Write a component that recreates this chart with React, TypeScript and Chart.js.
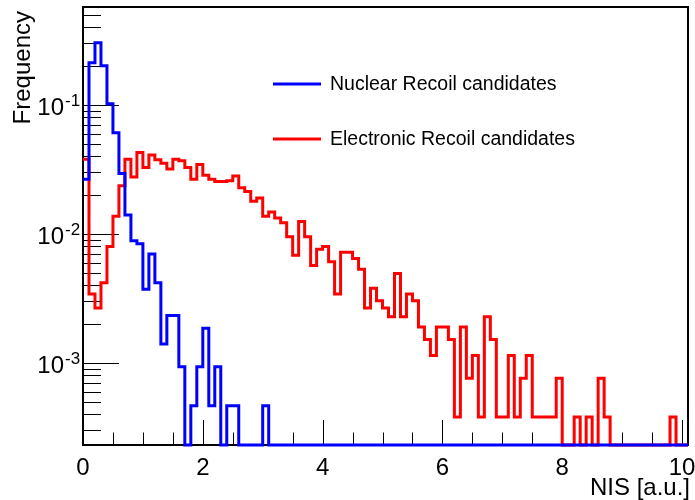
import React, { useEffect, useRef } from "react";
import { Chart, registerables } from "chart.js";

Chart.register(...registerables);

// ---------------- data ----------------
const BIN_WIDTH = 0.1;
const X_MIN = 0;
const X_MAX = 10.1;
const Y_MIN = 2.31e-4;
const Y_MAX = 0.575;

// bin contents (normalised frequency) for bins [0,0.1), [0.1,0.2), ... [9.9,10.0)
const nuclearFreq = [
  0.0266, 0.2125, 0.304, 0.201, 0.102, 0.061, 0.0294, 0.014, 0.00885, 0.00839,
  0.00373, 0.00699, 0.00419, 0.0014, 0.00233, 0.00233, 0.000932, 0, 0.000466, 0.000932,
  0.00186, 0.000466, 0.000932, 0, 0.000466, 0.000466, 0, 0, 0, 0,
  0.000466, 0, 0, 0, 0, 0, 0, 0, 0, 0,
  0, 0, 0, 0, 0, 0, 0, 0, 0, 0,
  0, 0, 0, 0, 0, 0, 0, 0, 0, 0,
  0, 0, 0, 0, 0, 0, 0, 0, 0, 0,
  0, 0, 0, 0, 0, 0, 0, 0, 0, 0,
  0, 0, 0, 0, 0, 0, 0, 0, 0, 0,
  0, 0, 0, 0, 0, 0, 0, 0, 0, 0,
];

const electronicFreq = [
  0.038, 0.00342, 0.00266, 0.00418, 0.00798, 0.0137, 0.0236, 0.038, 0.0277, 0.0429,
  0.0327, 0.041, 0.0376, 0.0353, 0.0319, 0.038, 0.0369, 0.0327, 0.0266, 0.0346,
  0.0285, 0.0266, 0.0255, 0.0255, 0.0258, 0.0281, 0.0228, 0.0213, 0.0179, 0.019,
  0.0137, 0.0148, 0.0133, 0.0122, 0.0095, 0.00684, 0.0125, 0.0095, 0.0057, 0.0076,
  0.00798, 0.00608, 0.00342, 0.00722, 0.00722, 0.00646, 0.00532, 0.00266, 0.0038, 0.00304,
  0.00266, 0.00228, 0.00494, 0.00228, 0.00342, 0.00304, 0.0019, 0.00152, 0.00114, 0.0019,
  0.0019, 0.00152, 0.00038, 0.0019, 0.00076, 0.00114, 0.00038, 0.00228, 0.00152, 0.00038,
  0.00038, 0.00114, 0.00038, 0.00076, 0.00114, 0.00038, 0.00038, 0.00038, 0.00038, 0.00076,
  0, 0, 0.00038, 0, 0.00038, 0, 0.00076, 0.00038, 0, 0,
  0, 0, 0, 0, 0, 0, 0, 0, 0.00038, 0,
];

const seriesLabels = ["Nuclear Recoil candidates", "Electronic Recoil candidates"];
const seriesColors = ["#0000ff", "#ff0000"];
const xTickLabels = [0, 2, 4, 6, 8, 10];
const yDecades = [1e-3, 1e-2, 1e-1];
const yDecadeExponents = ["-3", "-2", "-1"];
const xTitle = "NIS [a.u.]";
const yTitle = "Frequency";

const FONT = '"Liberation Sans", Arial, Helvetica, sans-serif';

function toSteps(values: number[]) {
  const pts = values.map((v, i) => ({ x: i * BIN_WIDTH, y: v > 0 ? v : Y_MIN }));
  pts.push({ x: values.length * BIN_WIDTH, y: Y_MIN });
  pts.push({ x: X_MAX, y: Y_MIN });
  return pts;
}

const rootStylePlugin = {
  id: "rootStyle",
  beforeDatasetsDraw(chart: any) {
    const { ctx, chartArea: a, scales } = chart;
    const xs = scales.x;
    const ys = scales.y;
    ctx.save();
    ctx.strokeStyle = "#000";
    ctx.lineWidth = 1;
    // x ticks (inside frame)
    for (let i = 0; i <= 20; i++) {
      const v = i * 0.5;
      const px = Math.round(xs.getPixelForValue(v)) + 0.5;
      const len = i % 4 === 0 ? 25 : 12.5;
      ctx.beginPath();
      ctx.moveTo(px, a.bottom);
      ctx.lineTo(px, a.bottom - len);
      ctx.stroke();
    }
    // y ticks (log)
    for (let e = -4; e <= 0; e++) {
      for (let m = 1; m <= 9; m++) {
        const v = m * Math.pow(10, e);
        if (v < Y_MIN || v > Y_MAX) continue;
        const py = Math.round(ys.getPixelForValue(v)) + 0.5;
        const len = m === 1 ? 36 : 18;
        ctx.beginPath();
        ctx.moveTo(a.left, py);
        ctx.lineTo(a.left + len, py);
        ctx.stroke();
      }
    }
    // frame
    ctx.lineWidth = 2;
    ctx.strokeRect(a.left, a.top, a.right - a.left, a.bottom - a.top);
    ctx.restore();
  },
  afterDraw(chart: any) {
    const { ctx, chartArea: a, scales } = chart;
    const xs = scales.x;
    const ys = scales.y;
    ctx.save();
    ctx.fillStyle = "#000";
    // x tick labels
    ctx.font = `24px ${FONT}`;
    ctx.textAlign = "center";
    ctx.textBaseline = "alphabetic";
    xTickLabels.forEach((v) => {
      ctx.fillText(String(v), xs.getPixelForValue(v), a.bottom + 30);
    });
    // y decade labels 10^n
    yDecades.forEach((v, i) => {
      const py = ys.getPixelForValue(v);
      ctx.font = `24px ${FONT}`;
      ctx.textAlign = "right";
      ctx.fillText("10", 64, py + 10);
      ctx.font = `17px ${FONT}`;
      ctx.textAlign = "left";
      ctx.fillText(yDecadeExponents[i], 65, py + 1);
    });
    // axis titles
    ctx.font = `24px ${FONT}`;
    ctx.textAlign = "right";
    ctx.fillText(xTitle, 690, 495);
    ctx.save();
    ctx.translate(30, a.top + 4);
    ctx.rotate(-Math.PI / 2);
    ctx.textAlign = "right";
    ctx.fillText(yTitle, 0, 0);
    ctx.restore();
    // legend
    const legendY = [84, 139];
    ctx.font = `19.5px ${FONT}`;
    ctx.textAlign = "left";
    ctx.textBaseline = "middle";
    seriesLabels.forEach((lbl, i) => {
      ctx.strokeStyle = seriesColors[i];
      ctx.lineWidth = 3;
      ctx.beginPath();
      ctx.moveTo(273, legendY[i]);
      ctx.lineTo(321, legendY[i]);
      ctx.stroke();
      ctx.fillStyle = "#000";
      ctx.fillText(lbl, 330, legendY[i] + 1);
    });
    ctx.restore();
  },
};

export default function App() {
  const ref = useRef<HTMLCanvasElement | null>(null);
  useEffect(() => {
    document.body.style.margin = "0";
    const canvas = ref.current;
    if (!canvas) return;
    const chart = new Chart(canvas, {
      type: "line",
      data: {
        datasets: [
          {
            label: seriesLabels[0],
            data: toSteps(nuclearFreq),
            borderColor: seriesColors[0],
            borderWidth: 3,
            stepped: "before",
            pointRadius: 0,
            fill: false,
            clip: 6,
            order: 0,
          },
          {
            label: seriesLabels[1],
            data: toSteps(electronicFreq),
            borderColor: seriesColors[1],
            borderWidth: 3,
            stepped: "before",
            pointRadius: 0,
            fill: false,
            clip: 6,
            order: 1,
          },
        ],
      },
      options: {
        responsive: false,
        devicePixelRatio: 1,
        animation: false,
        parsing: false,
        layout: { padding: { left: 83, right: 7, top: 7, bottom: 55 } },
        plugins: { legend: { display: false }, tooltip: { enabled: false } },
        scales: {
          x: { type: "linear", min: X_MIN, max: X_MAX, display: false },
          y: { type: "logarithmic", min: Y_MIN, max: Y_MAX, display: false },
        },
      },
      plugins: [rootStylePlugin],
    } as any);
    return () => chart.destroy();
  }, []);
  return <canvas ref={ref} width={695} height={500} style={{ display: "block" }} />;
}
